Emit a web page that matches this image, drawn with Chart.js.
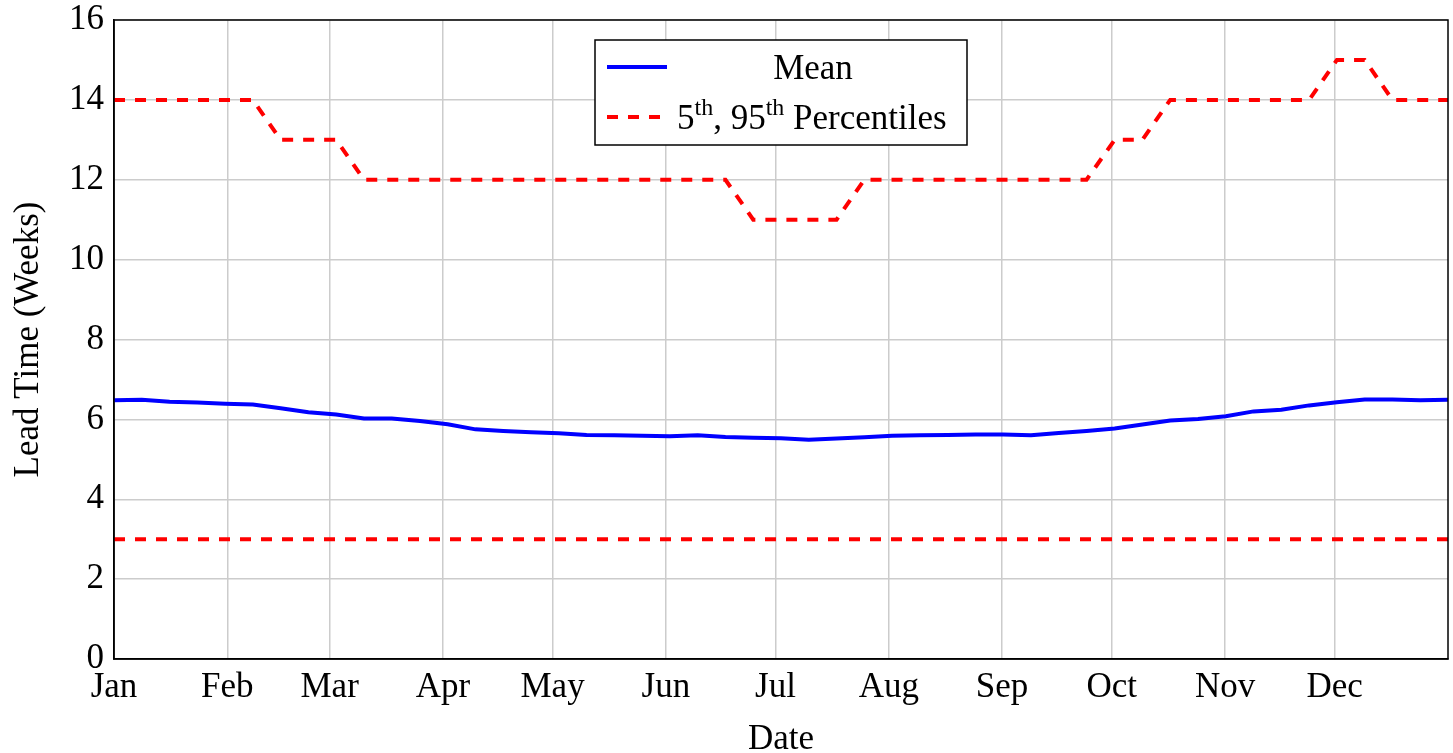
<!DOCTYPE html>
<html>
<head>
<meta charset="utf-8">
<script src="https://cdn.jsdelivr.net/npm/chart.js@4.4.1/dist/chart.umd.min.js"></script>
<style>
  html, body { margin: 0; padding: 0; background: #fff; }
  #wrap { width: 1453px; height: 753px; }
</style>
</head>
<body>
<div id="wrap"><canvas id="myChart"></canvas></div>
<script>
// sample days (day of year) of the 49 points
const sampleDays = [0, 7.6, 15.2, 22.8, 30.4, 38, 45.6, 53.2, 60.8, 68.4, 76, 83.7, 91.3, 98.9, 106.5, 114.1,
    121.7, 129.3, 136.9, 144.5, 152.1, 159.7, 167.3, 174.9, 182.5, 190.1, 197.7, 205.3, 212.9, 220.5, 228.1,
    235.7, 243.3, 250.9, 258.5, 266.1, 273.8, 281.4, 289, 296.6, 304.2, 311.8, 319.4, 327, 334.6, 342.2,
    349.8, 357.4, 365];

const meanWeeks = [6.48, 6.49, 6.44, 6.42, 6.39, 6.37, 6.28, 6.18, 6.12, 6.02, 6.02, 5.96, 5.88, 5.75, 5.71, 5.68,
    5.65, 5.61, 5.60, 5.59, 5.58, 5.60, 5.56, 5.54, 5.53, 5.49, 5.52, 5.55, 5.59, 5.60, 5.61,
    5.62, 5.62, 5.60, 5.66, 5.71, 5.77, 5.87, 5.97, 6.01, 6.08, 6.20, 6.24, 6.35, 6.43, 6.50,
    6.50, 6.48, 6.49];

const p95Weeks = [14, 14, 14, 14, 14, 14, 13, 13, 13, 12, 12, 12, 12, 12, 12, 12,
    12, 12, 12, 12, 12, 12, 12, 11, 11, 11, 11, 12, 12, 12, 12,
    12, 12, 12, 12, 12, 13, 13, 14, 14, 14, 14, 14, 14, 15, 15,
    14, 14, 14];

const p5Weeks = [3, 3, 3, 3, 3, 3, 3, 3, 3, 3, 3, 3, 3, 3, 3, 3,
    3, 3, 3, 3, 3, 3, 3, 3, 3, 3, 3, 3, 3, 3, 3,
    3, 3, 3, 3, 3, 3, 3, 3, 3, 3, 3, 3, 3, 3, 3,
    3, 3, 3];

const monthDays = [0, 31, 59, 90, 120, 151, 181, 212, 243, 273, 304, 334];
const monthLabels = ['Jan', 'Feb', 'Mar', 'Apr', 'May', 'Jun', 'Jul', 'Aug', 'Sep', 'Oct', 'Nov', 'Dec'];

const FONT = '"Liberation Serif", "Times New Roman", serif';

function toPoints(values) {
    const pts = [];
    for (let i = 0; i < values.length; i++) {
        pts.push({x: sampleDays[i], y: values[i]});
    }
    return pts;
}

// frame + legend with superscripts
const framePlugin = {
    id: 'frameAndLegend',
    afterDraw(chart) {
        const ctx = chart.ctx;
        const a = chart.chartArea;
        ctx.save();
        ctx.strokeStyle = '#000';
        ctx.lineWidth = 1.5;
        ctx.strokeRect(a.left, a.top, a.right - a.left, a.bottom - a.top);

        // legend box
        const bx = 595, by = 40, bw = 372, bh = 105;
        ctx.fillStyle = '#fff';
        ctx.fillRect(bx, by, bw, bh);
        ctx.strokeRect(bx, by, bw, bh);

        ctx.lineWidth = 4;
        ctx.strokeStyle = '#0000ff';
        ctx.beginPath();
        ctx.moveTo(607, 67);
        ctx.lineTo(667, 67);
        ctx.stroke();

        ctx.strokeStyle = '#ff0000';
        ctx.setLineDash([11, 10]);
        ctx.beginPath();
        ctx.moveTo(607, 117);
        ctx.lineTo(660, 117);
        ctx.stroke();
        ctx.setLineDash([]);

        ctx.fillStyle = '#000';
        ctx.textBaseline = 'alphabetic';
        ctx.font = '35px ' + FONT;
        ctx.textAlign = 'center';
        ctx.fillText('Mean', 813, 79);

        ctx.textAlign = 'left';
        const parts = [['5', false], ['th', true], [', 95', false], ['th', true], [' Percentiles', false]];
        let x = 677;
        for (const [txt, sup] of parts) {
            ctx.font = (sup ? '24px ' : '35px ') + FONT;
            ctx.fillText(txt, x, sup ? 115 : 129);
            x += ctx.measureText(txt).width;
        }
        ctx.restore();
    }
};

const ctx = document.getElementById('myChart');

new Chart(ctx, {
    type: 'line',
    data: {
        datasets: [{
            label: 'Mean',
            data: toPoints(meanWeeks),
            borderColor: '#0000ff',
            borderWidth: 4,
            pointRadius: 0,
            tension: 0
        }, {
            label: '95th Percentile',
            data: toPoints(p95Weeks),
            borderColor: '#ff0000',
            borderWidth: 4,
            borderDash: [11, 10],
            pointRadius: 0,
            tension: 0
        }, {
            label: '5th Percentile',
            data: toPoints(p5Weeks),
            borderColor: '#ff0000',
            borderWidth: 4,
            borderDash: [11, 10],
            pointRadius: 0,
            tension: 0
        }]
    },
    options: {
        responsive: true,
        maintainAspectRatio: false,
        animation: false,
        layout: {padding: {top: 20, right: 5, left: 0, bottom: 0}},
        plugins: {
            legend: {display: false},
            tooltip: {enabled: false}
        },
        scales: {
            x: {
                type: 'linear',
                min: 0,
                max: 365,
                afterBuildTicks(scale) {
                    scale.ticks = monthDays.map(d => ({value: d}));
                },
                afterFit(scale) {
                    scale.height = 94;
                },
                ticks: {
                    autoSkip: false,
                    maxRotation: 0,
                    padding: 8,
                    color: '#000',
                    font: {family: FONT, size: 35},
                    callback(value) {
                        const idx = monthDays.indexOf(value);
                        return idx >= 0 ? monthLabels[idx] : '';
                    }
                },
                grid: {color: '#cccccc', lineWidth: 1.5, drawTicks: false},
                border: {display: true, color: '#000', width: 1.5},
                title: {
                    display: true,
                    text: 'Date',
                    color: '#000',
                    font: {family: FONT, size: 35, lineHeight: 0.75},
                    padding: {top: 8, bottom: 0}
                }
            },
            y: {
                min: 0,
                max: 16,
                afterFit(scale) {
                    scale.width = 114;
                    scale.paddingTop = 0;
                },
                ticks: {
                    stepSize: 2,
                    padding: 10,
                    color: '#000',
                    font: {family: FONT, size: 35}
                },
                grid: {color: '#cccccc', lineWidth: 1.5, drawTicks: false},
                border: {display: true, color: '#000', width: 1.5},
                title: {
                    display: true,
                    text: 'Lead Time (Weeks)',
                    color: '#000',
                    font: {family: FONT, size: 35},
                    padding: {top: 8, bottom: 4}
                }
            }
        }
    },
    plugins: [framePlugin]
});
</script>
</body>
</html>
